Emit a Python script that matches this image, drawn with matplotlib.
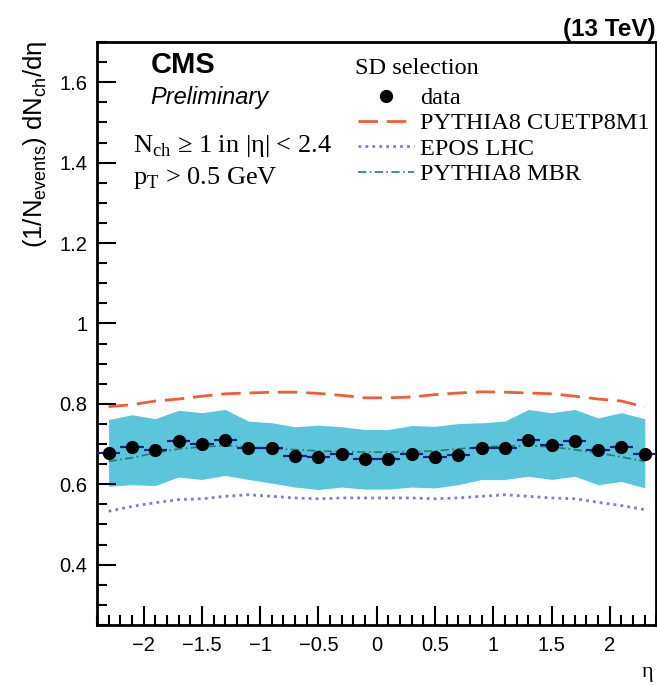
import numpy as np
import matplotlib
matplotlib.use('Agg')
import matplotlib.pyplot as plt
from matplotlib.lines import Line2D
from matplotlib.ticker import MultipleLocator

plt.rcParams['font.family'] = ['Liberation Sans', 'DejaVu Sans']
plt.rcParams['mathtext.fontset'] = 'custom'
plt.rcParams['mathtext.rm'] = 'Liberation Serif'
plt.rcParams['mathtext.sf'] = 'Liberation Sans'

# eta bin centres (bin width 0.2 over |eta| < 2.4)
eta = np.round(np.arange(-2.3, 2.31, 0.2), 2)
bin_half = 0.1

data = [0.678, 0.693, 0.685, 0.707, 0.699, 0.709, 0.690, 0.689, 0.671, 0.667, 0.676, 0.664,
        0.664, 0.676, 0.668, 0.672, 0.690, 0.690, 0.709, 0.698, 0.708, 0.684, 0.693, 0.676]
syst_hi = [0.761, 0.773, 0.763, 0.784, 0.778, 0.786, 0.757, 0.753, 0.743, 0.747, 0.743, 0.736,
           0.736, 0.746, 0.744, 0.751, 0.753, 0.757, 0.786, 0.778, 0.786, 0.765, 0.778, 0.763]
syst_lo = [0.595, 0.599, 0.597, 0.618, 0.612, 0.622, 0.612, 0.603, 0.593, 0.587, 0.593, 0.588,
           0.588, 0.593, 0.591, 0.599, 0.612, 0.612, 0.620, 0.612, 0.620, 0.599, 0.607, 0.591]
pythia_cuetp = [0.793, 0.798, 0.807, 0.812, 0.819, 0.825, 0.827, 0.829, 0.829, 0.826, 0.821, 0.815,
                0.815, 0.817, 0.823, 0.827, 0.830, 0.829, 0.827, 0.825, 0.819, 0.812, 0.807, 0.792]
epos_lhc = [0.533, 0.545, 0.554, 0.562, 0.564, 0.570, 0.574, 0.570, 0.566, 0.564, 0.566, 0.566,
            0.566, 0.566, 0.564, 0.566, 0.570, 0.574, 0.570, 0.566, 0.564, 0.555, 0.547, 0.537]
pythia_mbr = [0.657, 0.666, 0.678, 0.688, 0.693, 0.696, 0.693, 0.689, 0.686, 0.683, 0.681, 0.680,
              0.680, 0.681, 0.683, 0.688, 0.693, 0.695, 0.696, 0.693, 0.686, 0.678, 0.668, 0.657]

x_ticks = [-2, -1.5, -1, -0.5, 0, 0.5, 1, 1.5, 2]
x_ticklabels = ['\u22122', '\u22121.5', '\u22121', '\u22120.5', '0', '0.5', '1', '1.5', '2']
y_ticks = [0.4, 0.6, 0.8, 1.0, 1.2, 1.4, 1.6]
y_ticklabels = ['0.4', '0.6', '0.8', '1', '1.2', '1.4', '1.6']

SERIF = ['Liberation Serif', 'DejaVu Serif']
C_CUETP = '#f25c3a'
C_EPOS = '#7880cc'
C_MBR = '#2a7a70'

fig = plt.figure(figsize=(6.57, 6.85), dpi=100)
ax = fig.add_axes([0.1476, 0.0876, 0.8515, 0.8511])

ax.fill_between(eta, syst_lo, syst_hi, color='#5bc5db', lw=0, zorder=1)
ax.plot(eta, pythia_cuetp, color=C_CUETP, lw=2.0, dashes=(7, 3.2), zorder=3)
ax.plot(eta, epos_lhc, color=C_EPOS, lw=2.0, dashes=(1, 1.5), zorder=3)
ax.plot(eta, pythia_mbr, color=C_MBR, lw=1.2, dashes=(5, 2, 1, 2), zorder=3)
ax.errorbar(eta, data, xerr=bin_half, fmt='o', color='black', ms=8.5,
            ecolor='#1c1c8c', elinewidth=1.6, capsize=0, zorder=4)

ax.set_xlim(-2.4, 2.4)
ax.set_ylim(0.25, 1.7)
ax.xaxis.set_minor_locator(MultipleLocator(0.1))
ax.yaxis.set_minor_locator(MultipleLocator(0.05))
ax.set_xticks(x_ticks)
ax.set_xticklabels(x_ticklabels)
ax.set_yticks(y_ticks)
ax.set_yticklabels(y_ticklabels)
ax.tick_params(which='both', direction='in', width=1.5, labelsize=14.5)
ax.tick_params(which='major', length=14)
ax.tick_params(which='minor', length=7)
ax.tick_params(axis='y', pad=7)
ax.tick_params(axis='x', pad=8)
for sp in ax.spines.values():
    sp.set_linewidth(2)

# axis titles
fig.text(0.054, 0.9416, r'(1/N$_{\mathsf{events}}$) dN$_{\mathsf{ch}}$/dη',
         rotation=90, ha='center', va='top', fontsize=18.5)
fig.text(0.995, 0.004, 'η', ha='right', va='bottom', fontsize=16, family=SERIF)

# labels inside the frame
fig.text(0.229, 0.905, 'CMS', fontsize=21, fontweight='bold', va='center')
fig.text(0.229, 0.857, 'Preliminary', fontsize=17, style='italic', va='center')
fig.text(0.202, 0.778, r'N$_{\rm ch}$ ≥ 1 in |η| < 2.4', fontsize=19, family=SERIF, va='baseline')
fig.text(0.202, 0.731, r'p$_{\rm T}$ > 0.5 GeV', fontsize=19, family=SERIF, va='baseline')
fig.text(0.998, 0.957, '(13 TeV)', fontsize=17.5, fontweight='bold', ha='right', va='center')
fig.text(0.540, 0.9007, 'SD selection', fontsize=17.5, family=SERIF, va='center')

handles = [
    Line2D([], [], ls='none', marker='o', color='black', ms=8.5),
    Line2D([], [], color=C_CUETP, lw=2.0, dashes=(7, 3.2)),
    Line2D([], [], color=C_EPOS, lw=2.0, dashes=(1, 1.5)),
    Line2D([], [], color=C_MBR, lw=1.2, dashes=(5, 2, 1, 2)),
]
labels = ['data', 'PYTHIA8 CUETP8M1', 'EPOS LHC', 'PYTHIA8 MBR']
leg = ax.legend(handles, labels, loc='upper left',
                bbox_to_anchor=(0.545, 0.873), bbox_transform=fig.transFigure,
                frameon=False, prop={'family': SERIF, 'size': 17.5},
                handlelength=2.3, handletextpad=0.25, labelspacing=0.14,
                borderpad=0, borderaxespad=0)

fig.savefig('out.png', dpi=100)
